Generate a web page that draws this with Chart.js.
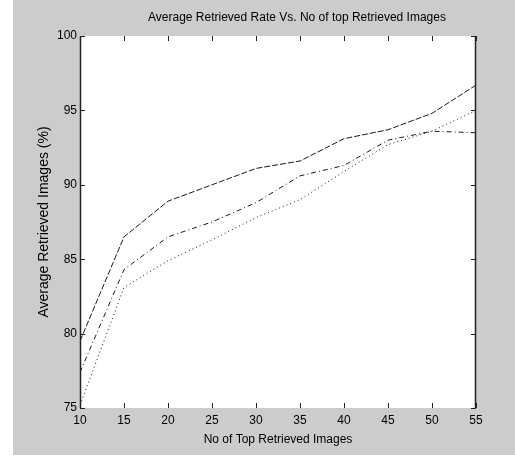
<!DOCTYPE html>
<html>
<head>
<meta charset="utf-8">
<script src="https://cdn.jsdelivr.net/npm/chart.js@4.4.0/dist/chart.umd.min.js"></script>
<style>
  html, body { margin: 0; padding: 0; background: #ffffff; }
  #wrap { width: 515px; height: 456px; }
</style>
</head>
<body>
<div id="wrap"><canvas id="retrChart" width="515" height="456"></canvas></div>
<script>
const topImages = [10, 15, 20, 25, 30, 35, 40, 45, 50, 55];
const seriesA = [79.5, 86.5, 88.9, 90.0, 91.1, 91.6, 93.1, 93.7, 94.8, 96.7];
const seriesB = [77.4, 84.3, 86.5, 87.5, 88.8, 90.6, 91.3, 93.0, 93.6, 93.5];
const seriesC = [75.2, 83.1, 84.9, 86.3, 87.8, 89.0, 90.9, 92.7, 93.6, 95.0];
const xTicks = [10, 15, 20, 25, 30, 35, 40, 45, 50, 55];
const yTicks = [75, 80, 85, 90, 95, 100];
const chartTitle = 'Average Retrieved Rate Vs. No of top Retrieved Images';

const FONT = 'Liberation Sans, Arial, sans-serif';

function toPoints(vals) {
  return topImages.map((x, i) => ({ x: x, y: vals[i] }));
}

// grey figure background, white axes box, ticks drawn inward on all 4 sides
const matlabFrame = {
  id: 'matlabFrame',
  beforeDraw(chart) {
    const c = chart.ctx;
    const a = chart.chartArea;
    c.save();
    c.fillStyle = '#cccccc';
    c.fillRect(13, 0, chart.width - 13, 455);
    c.fillStyle = '#ffffff';
    c.fillRect(a.left, a.top, a.right - a.left, a.bottom - a.top);
    // title sits a bit right of the axes centre in the original
    c.fillStyle = '#000000';
    c.font = '12px ' + FONT;
    c.textAlign = 'center';
    c.textBaseline = 'middle';
    c.fillText(chartTitle, 297, 18);
    c.restore();
  },
  afterDatasetsDraw(chart) {
    const c = chart.ctx;
    const a = chart.chartArea;
    const xs = chart.scales.x;
    const ys = chart.scales.y;
    const len = 5;
    c.save();
    c.strokeStyle = '#222222';
    c.lineWidth = 1;
    c.beginPath();
    xTicks.forEach(v => {
      const px = Math.round(xs.getPixelForValue(v)) + 0.5;
      c.moveTo(px, a.bottom); c.lineTo(px, a.bottom - len);
      c.moveTo(px, a.top); c.lineTo(px, a.top + len);
    });
    yTicks.forEach(v => {
      const py = Math.round(ys.getPixelForValue(v)) + 0.5;
      c.moveTo(a.left, py); c.lineTo(a.left + len, py);
      c.moveTo(a.right, py); c.lineTo(a.right - len, py);
    });
    c.stroke();
    // only the vertical sides of the box survive in the original
    c.lineWidth = 1.5;
    c.beginPath();
    c.moveTo(a.left + 0.5, a.top); c.lineTo(a.left + 0.5, a.bottom);
    c.moveTo(a.right - 0.5, a.top); c.lineTo(a.right - 0.5, a.bottom);
    c.stroke();
    c.restore();
  }
};

const lineDefaults = {
  borderColor: '#1a1a1a',
  borderWidth: 1,
  pointRadius: 0,
  fill: false,
  tension: 0
};

const ctx = document.getElementById('retrChart').getContext('2d');
const chart = new Chart(ctx, {
  type: 'line',
  data: {
    datasets: [
      Object.assign({ label: 'A', data: toPoints(seriesA), borderDash: [6, 2] }, lineDefaults),
      Object.assign({ label: 'B', data: toPoints(seriesB), borderDash: [5, 3, 1, 3] }, lineDefaults),
      Object.assign({ label: 'C', data: toPoints(seriesC), borderDash: [1, 3] }, lineDefaults)
    ]
  },
  options: {
    responsive: false,
    animation: false,
    layout: { padding: { left: 13, right: 39, top: 36, bottom: 0 } },
    plugins: {
      legend: { display: false },
      tooltip: { enabled: false },
      title: { display: false }
    },
    scales: {
      x: {
        type: 'linear',
        min: 10,
        max: 55,
        afterFit(scale) { scale.height = 48; },
        afterBuildTicks(scale) { scale.ticks = xTicks.map(v => ({ value: v })); },
        grid: { display: false, drawTicks: false },
        border: { display: false },
        ticks: {
          autoSkip: false,
          maxRotation: 0,
          padding: 5,
          color: '#000000',
          font: { family: FONT, size: 12 }
        },
        title: {
          display: true,
          text: 'No of Top Retrieved Images',
          color: '#000000',
          font: { family: FONT, size: 12 },
          padding: { top: 0, bottom: 9 }
        }
      },
      y: {
        type: 'linear',
        min: 75,
        max: 100,
        afterFit(scale) { scale.width = 67; },
        afterBuildTicks(scale) { scale.ticks = yTicks.map(v => ({ value: v })); },
        grid: { display: false, drawTicks: false },
        border: { display: false },
        ticks: {
          autoSkip: false,
          padding: 3,
          color: '#000000',
          font: { family: FONT, size: 12 }
        },
        title: {
          display: true,
          text: 'Average Retrieved Images (%)',
          color: '#000000',
          font: { family: FONT, size: 14 },
          padding: { top: 23, bottom: 0 }
        }
      }
    }
  },
  plugins: [matlabFrame]
});
</script>
</body>
</html>
